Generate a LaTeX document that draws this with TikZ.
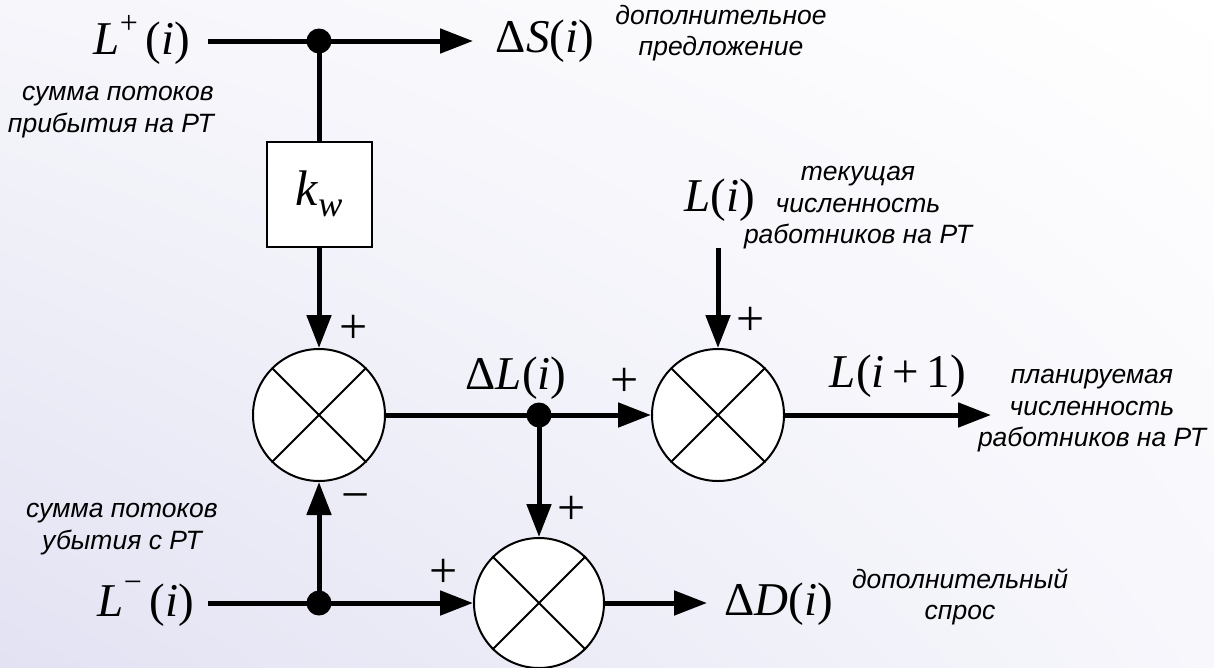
\documentclass[tikz,border=0pt]{standalone}
\usepackage{fontspec}
\setmainfont{Liberation Serif}
\setsansfont{Liberation Sans}
\usetikzlibrary{arrows.meta,shadings}
\definecolor{bgUL}{RGB}{246,246,251}
\definecolor{bgLL}{RGB}{226,226,243}
\definecolor{bgUR}{RGB}{255,255,255}
\definecolor{bgLR}{RGB}{247,247,252}
\newcommand{\mi}[1]{\textit{#1}}
\begin{document}
\begin{tikzpicture}[x=1pt,y=-1pt,
  thickline/.style={line width=5pt},
  arr/.style={line width=5pt,-{Triangle[length=33pt,width=24pt]}},
  sumnode/.style={circle,draw,line width=2pt,fill=white,minimum size=132pt,inner sep=0pt},
  crossline/.style={line width=1.8pt},
  dotnode/.style={circle,fill=black,minimum size=25pt,inner sep=0pt},
  mathlbl/.style={font=\fontsize{47}{50}\selectfont,inner sep=0pt},
  signlbl/.style={font=\fontsize{50}{52}\selectfont,inner sep=0pt},
  note/.style={font=\sffamily\itshape\fontsize{26.5}{31.5}\selectfont,align=center,inner sep=0pt},
  boxnode/.style={draw,line width=2pt,fill=white,minimum size=105pt,inner sep=0pt}]
\useasboundingbox (0,0) rectangle (1214,667);
\shade[upper left=bgUL,lower left=bgLL,upper right=bgUR,lower right=bgLR] (0,0) rectangle (1214,667);

% nodes
\node[mathlbl] (Lp) at (142,40) {\mi{L}\raisebox{0.45em}{\fontsize{32}{32}\selectfont +}\,(\mi{i})};
\node[mathlbl] (dS) at (545,41) {Δ\mi{S}(\mi{i})};
\node[note,anchor=east,align=right] (nLp) at (214,112) {сумма потоков\\прибытия на РТ};
\node[note] (nS) at (721,33) {дополнительное\\предложение};
\node[boxnode] (kw) at (319,194) {\fontsize{50}{52}\selectfont\mi{k}\raisebox{-0.22em}{\fontsize{36}{36}\selectfont\mi{w}}};
\node[sumnode] (S1) at (319,415) {};
\node[sumnode] (S2) at (718,415) {};
\node[sumnode,minimum size=130pt] (S3) at (539,603) {};
\node[dotnode] (d1) at (319,41) {};
\node[dotnode] (d2) at (539,415) {};
\node[dotnode] (d3) at (319,603) {};
\node[mathlbl] (Li) at (720,200) {\mi{L}(\mi{i})};
\node[note] (nLi) at (858,208) {текущая\\численность\\работников на РТ};
\node[mathlbl] (dL) at (516,378) {Δ\mi{L}(\mi{i})};
\node[mathlbl] (Lip) at (898,376) {\mi{L}(\mi{i}\,+\,1)};
\node[note] (nLip) at (1092,411) {планируемая\\численность\\работников на РТ};
\node[mathlbl] (Lm) at (146,604) {\mi{L}\raisebox{0.5em}{\fontsize{32}{32}\selectfont −}\,(\mi{i})};
\node[note] (nLm) at (122,529) {сумма потоков\\убытия с РТ};
\node[mathlbl] (dD) at (779,604) {Δ\mi{D}(\mi{i})};
\node[note] (nD) at (960,597) {дополнительный\\спрос};

% signs
\node[signlbl] (p1) at (354,329) {+};
\node[signlbl] (p2) at (625,382) {+};
\node[signlbl] (p3) at (751,321) {+};
\node[signlbl] (p4) at (572,510) {+};
\node[signlbl] (p5) at (444,573) {+};
\node[signlbl] (m1) at (356,503) {−};

% free ends
\coordinate (Lpo) at (208,41);
\coordinate (dSt) at (473,41);
\coordinate (Lio) at (718,248);
\coordinate (outT) at (991,415);
\coordinate (Lmo) at (208,603);
\coordinate (dDt) at (707,603);

% crosses
\foreach \s in {S1,S2,S3}{
  \draw[crossline] (\s.45) -- (\s.225) (\s.135) -- (\s.-45);
}

% connectors
\draw[thickline] (Lpo) -- (d1.center);
\draw[arr] (d1.center) -- (dSt);
\draw[thickline] (d1.center) -- (kw.north);
\draw[arr] (kw.south) -- (S1.north);
\draw[thickline] (S1.east) -- (d2.center);
\draw[arr] (d2.center) -- (S2.west);
\draw[arr] (d2.center) -- (S3.north);
\draw[arr] (Lio) -- (S2.north);
\draw[arr] (S2.east) -- (outT);
\draw[thickline] (Lmo) -- (d3.center);
\draw[arr] (d3.center) -- (S1.south);
\draw[arr] (d3.center) -- (S3.west);
\draw[arr] (S3.east) -- (dDt);
\end{tikzpicture}
\end{document}
